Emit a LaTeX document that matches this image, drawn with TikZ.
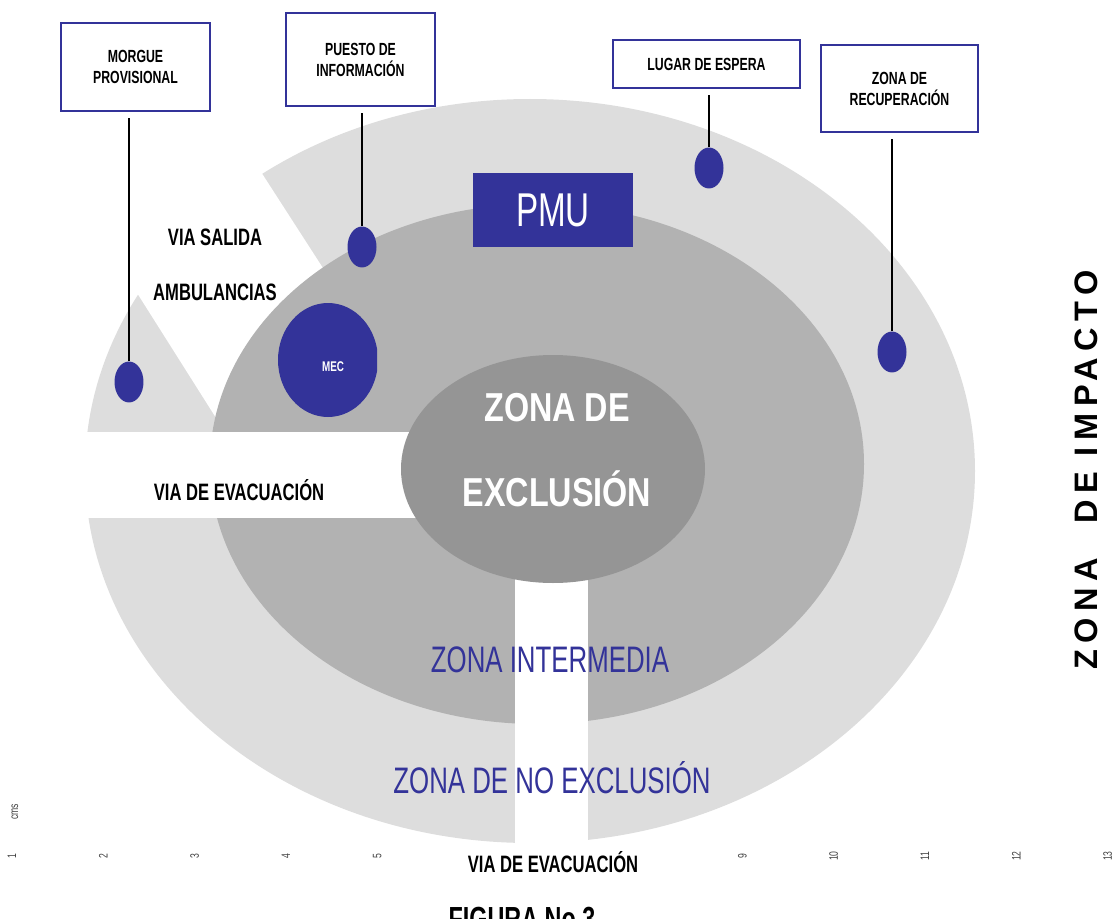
\documentclass[tikz,border=0pt]{standalone}
\usepackage{fontspec}
\setmainfont{Liberation Sans}
\newfontfamily\narrowsf[FakeStretch=0.7]{Liberation Sans}
\newfontfamily\midsf[FakeStretch=0.8]{Liberation Sans}
\newfontfamily\spacedsf[LetterSpace=20]{Liberation Sans}
\usetikzlibrary{shapes.geometric}

\definecolor{outerzone}{RGB}{221,221,221}
\definecolor{middlezone}{RGB}{178,178,178}
\definecolor{innerzone}{RGB}{149,149,149}
\definecolor{zoneblue}{RGB}{51,51,153}

\tikzset{
  infobox/.style={draw=zoneblue, line width=1.1pt, fill=white, align=center,
    font=\narrowsf\bfseries\fontsize{10}{12}\selectfont},
  spot/.style={ellipse, fill=zoneblue, inner sep=0pt, minimum width=0.58cm, minimum height=0.82cm},
  leader/.style={line width=0.8pt, shorten >=0.12cm},
  roadlabel/.style={font=\narrowsf\bfseries\fontsize{13.5}{31}\selectfont, align=center},
  zonelabel/.style={font=\narrowsf\fontsize{21}{25}\selectfont, text=zoneblue},
  ruler/.style={font=\narrowsf\fontsize{7}{8}\selectfont, rotate=90, text=black!75}
}

\begin{document}
\begin{tikzpicture}[x=0.02cm, y=-0.02cm]
\useasboundingbox (0,0) rectangle (1113,919);
\clip (0,0) rectangle (1113,919);

% zones and roads
\fill[outerzone] (530,471) ellipse [x radius=445, y radius=372];
\fill[white] (77,198) -- (203,82) -- (350,310) -- (230,440) -- cycle;
\fill[middlezone] (537,464) ellipse [x radius=327, y radius=260];
\fill[white] (60,432) rectangle (450,518);
\fill[white] (515,540) rectangle (588,860);
\fill[innerzone] (553,469) ellipse [x radius=152, y radius=114];

\node[fill=zoneblue, minimum width=3.2cm, minimum height=1.48cm, text=white,
  font=\narrowsf\fontsize{27}{30}\selectfont] (pmu) at (553,210) {PMU};

% MEC, cut on its right side
\begin{scope}
  \clip (270,290) rectangle (377,430);
  \fill[zoneblue] (328,360) ellipse [x radius=50, y radius=57];
\end{scope}
\node[text=white, font=\narrowsf\bfseries\fontsize{8}{9}\selectfont] (mec) at (333,367) {MEC};

% points and their boxes
\node[infobox, minimum width=2.98cm, minimum height=1.76cm] (morgue) at (135.5,67) {MORGUE\\PROVISIONAL};
\node[infobox, minimum width=2.98cm, minimum height=1.86cm] (puesto) at (360.5,59.5) {PUESTO DE\\INFORMACIÓN};
\node[infobox, minimum width=3.74cm, minimum height=0.96cm] (espera) at (706.5,64) {LUGAR DE ESPERA};
\node[infobox, minimum width=3.14cm, minimum height=1.74cm] (recup) at (899.5,88.5) {ZONA DE\\RECUPERACIÓN};

\node[spot] (morguept) at (129,382) {};
\node[spot] (puestopt) at (362,247) {};
\node[spot] (esperapt) at (709,168) {};
\node[spot] (recuppt) at (892,352) {};

\draw[leader] (morguept.north) -- (morguept.north |- morgue.south);
\draw[leader] (puestopt.north) -- (puestopt.north |- puesto.south);
\draw[leader] (esperapt.north) -- (esperapt.north |- espera.south);
\draw[leader] (recuppt.north) -- (recuppt.north |- recup.south);

% labels
\node[roadlabel] (salida) at (215,265) {VIA SALIDA\\AMBULANCIAS};
\node[roadlabel] (evacw) at (239,490) {VIA DE EVACUACIÓN};
\node[roadlabel] (evacs) at (553,862) {VIA DE EVACUACIÓN};
\node[text=white, align=center, font=\midsf\bfseries\fontsize{23}{48}\selectfont] (exclusion) at (557,450) {ZONA DE\\EXCLUSIÓN};
\node[zonelabel] (intermedia) at (550,660) {ZONA INTERMEDIA};
\node[zonelabel] (noexcl) at (552,778) {ZONA DE NO EXCLUSIÓN};
\node[rotate=90, font=\spacedsf\bfseries\fontsize{18.5}{20}\selectfont] (impacto) at (1086,470) {ZONA\hspace{0.6em} DE IMPACTO};

% ruler marks
\node[ruler] (cms) at (15,812) {cms};
\foreach \n in {1,2,3,4,5,9,10,11,12,13} {
  \node[ruler] at ({12+91.3*(\n-1)},856) {\n};
}
\node[anchor=north, inner sep=0pt, font=\narrowsf\bfseries\fontsize{19}{22}\selectfont] (figura) at (522,907) {FIGURA No 3};
\end{tikzpicture}
\end{document}
